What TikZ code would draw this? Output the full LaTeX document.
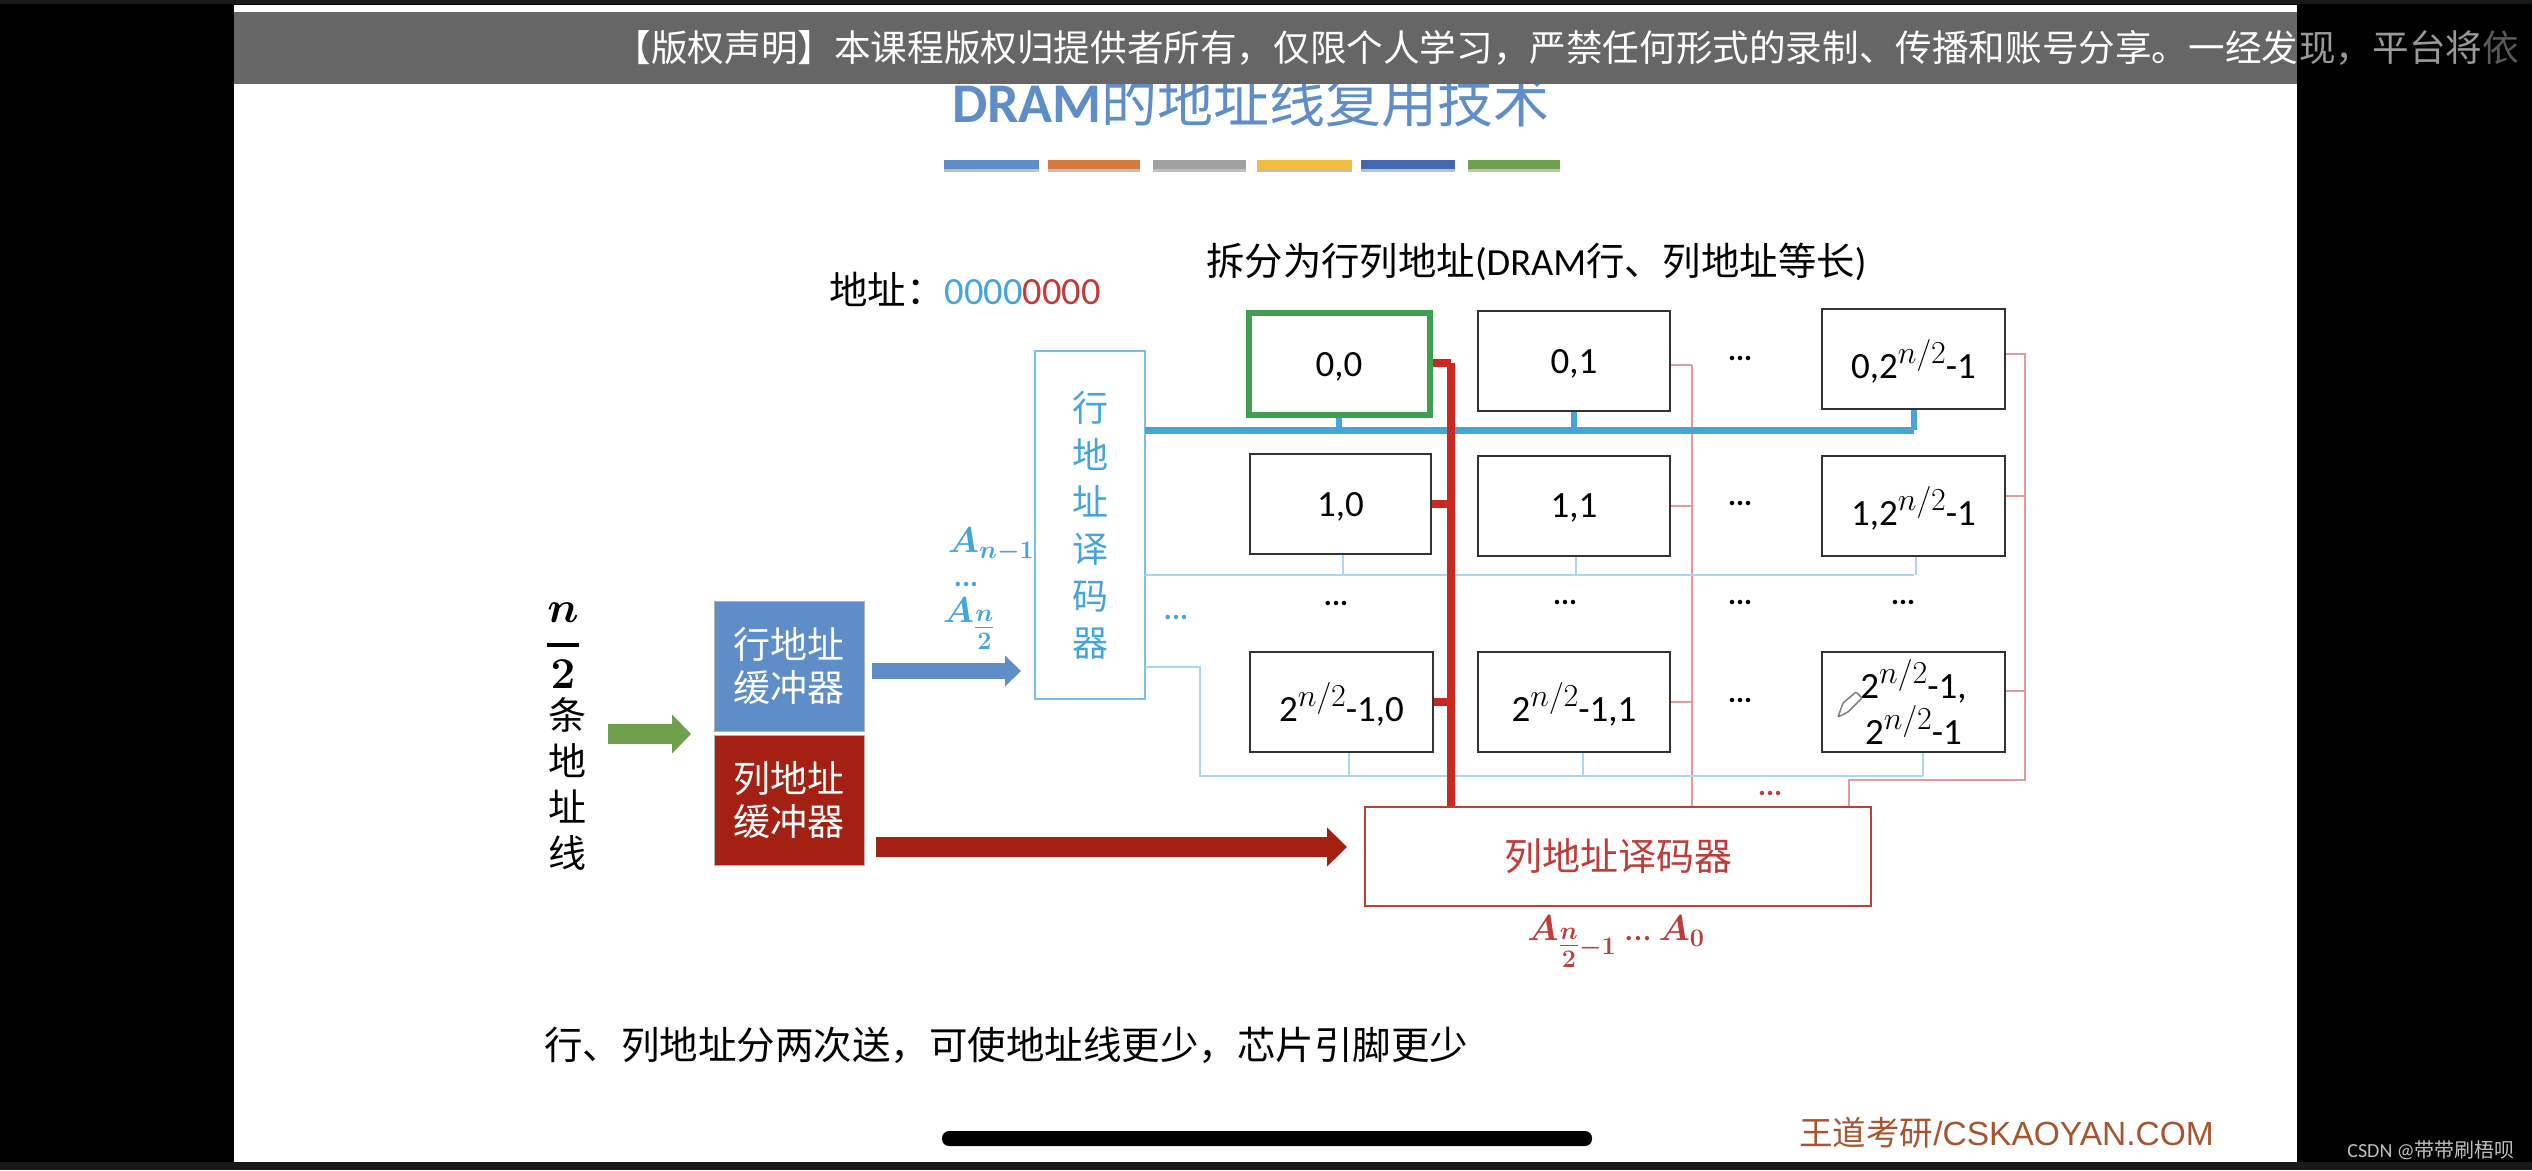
\documentclass[tikz,border=0pt]{standalone}
\usepackage{fix-cm}
\usepackage{amsmath}
\usepackage{fontspec}
\setmainfont{Carlito}
\newfontfamily\cjk{Noto Sans CJK SC}
\newfontfamily\arialfont{Liberation Sans}
\usetikzlibrary{arrows.meta}
\definecolor{rowblue}{HTML}{45A5DA}
\definecolor{rowthin}{HTML}{A9D8EE}
\definecolor{bufblue}{HTML}{5F8DC7}
\definecolor{bufred}{HTML}{A32012}
\definecolor{colred}{HTML}{C9291F}
\definecolor{colthin}{HTML}{E39A9A}
\definecolor{deccol}{HTML}{BE3C3A}
\definecolor{logocol}{HTML}{A5552F}
\definecolor{cellgreen}{HTML}{3F9E52}
\definecolor{arrowgreen}{HTML}{6FA04C}
\definecolor{barorange}{HTML}{D5793F}
\definecolor{bargray}{HTML}{A0A0A0}
\definecolor{bargold}{HTML}{F0BC3C}
\definecolor{barblue}{HTML}{4468B4}
\newcommand{\halfpow}{\raisebox{15pt}{\fontsize{32}{32}\selectfont$n/2$}}
\begin{document}
\begin{tikzpicture}[x=1pt, y=-1pt, align=center,
	every node/.style = {inner sep = 0, font = \fontsize{37}{46}\selectfont},
	cell/.style = {draw = black!80, line width = 2.5, fill = white, minimum height = 100, text depth = 0},
	buffer/.style = {draw = black!30, line width = 1, text = white, minimum width = 150, minimum height = 130, font = \cjk\fontsize{37}{43}\selectfont},
	dots/.style = {font = \bfseries\fontsize{30}{30}\selectfont},
	rowlbl/.style = {text = rowblue, font = \boldmath\fontsize{36}{40}\selectfont},
	collbl/.style = {text = deccol, font = \boldmath\fontsize{36}{40}\selectfont},
	rowbus/.style = {draw = rowblue, line width = 7},
	rowwire/.style = {draw = rowthin, line width = 2},
	colbus/.style = {draw = colred, line width = 8},
	colwire/.style = {draw = colthin, line width = 2},
	block/.style = {line width = 16, -{Triangle[length = 16pt, width = 30pt]}}]
	\useasboundingbox (0,0) rectangle (2532,1170);
	\fill[black] (0,0) rectangle (2532,1170);
	\fill[black!90] (0,0) rectangle (2532,4);
	\fill[black!90] (0,1162) rectangle (2532,1170);
	\fill[white] (234,5) rectangle (2297,1162);

	\node[font = \bfseries\fontsize{56}{60}\selectfont, text = bufblue] (title) at (1251,101) {DRAM{\cjk\mdseries 的地址线复用技术}};
	\fill[black!60] (234,12) rectangle (2297,84);
	\node[anchor = west, text = white, font = \cjk\fontsize{36.6}{44}\selectfont] (notice) at (614.5,48) {【版权声明】本课程版权归提供者所有，仅限个人学习，严禁任何形式的录制、传播和账号分享。一经发};
	\node[anchor = west, text = black!40, font = \cjk\fontsize{36.6}{44}\selectfont] (noticeend) at (2299,48) {现，平台将\textcolor{black!65}{依}};

	\fill[black!25] (944,165) rectangle (1039,172);
	\fill[black!25] (1048,165) rectangle (1140,172);
	\fill[black!25] (1153,165) rectangle (1246,172);
	\fill[black!25] (1257,165) rectangle (1352,172);
	\fill[black!25] (1361,165) rectangle (1455,172);
	\fill[black!25] (1468,165) rectangle (1560,172);
	\fill[bufblue] (944,160) rectangle (1039,169);
	\fill[barorange] (1048,160) rectangle (1140,169);
	\fill[bargray] (1153,160) rectangle (1246,169);
	\fill[bargold] (1257,160) rectangle (1352,169);
	\fill[barblue] (1361,160) rectangle (1455,169);
	\fill[arrowgreen] (1468,160) rectangle (1560,169);

	\node[anchor = west, font = \fontsize{38.5}{44}\selectfont] (addr) at (829,289) {{\cjk 地址：}\textcolor{rowblue}{0000}\textcolor{deccol}{0000}};
	\node[anchor = west, font = \fontsize{38.4}{44}\selectfont] (split) at (1206,262) {{\cjk 拆分为行列地址}(DRAM{\cjk 行、列地址等长})};

	\node[cell, minimum width = 181, draw = cellgreen, line width = 6, minimum height = 102] (c00) at (1339,364) {0,0};
	\node[cell, minimum width = 192] (c01) at (1574,361) {0,1};
	\node[cell, minimum width = 183] (c02) at (1913.5,359) {0,2\halfpow-1};
	\node[cell, minimum width = 181] (c10) at (1340.5,504) {1,0};
	\node[cell, minimum width = 192] (c11) at (1574,506) {1,1};
	\node[cell, minimum width = 183] (c12) at (1913.5,506) {1,2\halfpow-1};
	\node[cell, minimum width = 183] (c30) at (1341.5,702) {2\halfpow-1,0};
	\node[cell, minimum width = 192] (c31) at (1574,702) {2\halfpow-1,1};
	\node[cell, minimum width = 183] (c32) at (1913.5,702) {2\halfpow-1,\\2\halfpow-1};

	\node[draw = rowblue!70, line width = 2.5, text = rowblue, minimum width = 110, minimum height = 348, font = \cjk\fontsize{36}{47}\selectfont] (rowdec) at (1090,525) {行\\地\\址\\译\\码\\器};
	\node[draw = deccol, line width = 2.5, text = deccol, minimum width = 506, minimum height = 99, font = \cjk\fontsize{38}{44}\selectfont] (coldec) at (1618,856.5) {列地址译码器};
	\node[buffer, fill = bufblue] (rowbuf) at (789,666) {行地址\\缓冲器};
	\node[buffer, fill = bufred] (colbuf) at (789,800) {列地址\\缓冲器};

	\node[font = \boldmath\fontsize{44}{50}\selectfont] (width) at (563,646) {$\genfrac{}{}{4pt}{0}{n}{2}$};
	\node[font = \cjk\fontsize{38}{46}\selectfont] (wires) at (567,784) {条\\地\\址\\线};
	\node[rowlbl] (rowhi) at (991,545) {$A_{n-1}$};
	\node[dots, text = rowblue] (rowmid) at (966,584) {...};
	\node[rowlbl] (rowlo) at (969,624) {$A_{\tfrac{n}{2}}$};
	\node[collbl] (collow) at (1616,942) {$A_{\tfrac{n}{2}-1}$ ...$\,A_0$};

	\node[dots] (d03) at (1740,358) {...};
	\node[dots] (d13) at (1740,503) {...};
	\node[dots] (d20) at (1336,603) {...};
	\node[dots] (d21) at (1565,602) {...};
	\node[dots] (d22) at (1740,602) {...};
	\node[dots] (d23) at (1903,602) {...};
	\node[dots] (d33) at (1740,700) {...};
	\node[dots, text = rowblue] (drow) at (1176,617) {...};
	\node[dots, text = deccol] (dcol) at (1770,793) {...};

	\coordinate (bus0) at (1145,430);
	\coordinate (bus1) at (1145,575);
	\coordinate (bus2) at (1145,667);
	\coordinate (bus3) at (1200,667);
	\coordinate (bus4) at (1200,776);
	\coordinate (col0) at (1451,363);
	\coordinate (col1) at (1692,365);
	\coordinate (col2) at (2025,354);
	\coordinate (col3) at (2025,780);
	\coordinate (col4) at (1849,780);
	\draw[colwire] (col1) -- (col1 |- coldec.north);
	\draw[colwire] (c01.east |- col1) -- (col1);
	\draw[colwire] (c11.east) -- (col1 |- c11.east);
	\draw[colwire] (c31.east) -- (col1 |- c31.east);
	\draw[colwire] (c02.east |- col2) -- (col2) -- (col3) -- (col4) -- (col4 |- coldec.north);
	\draw[colwire] ([yshift = 10pt]c12.east) -- ([yshift = 10pt]col2 |- c12.east);
	\draw[colwire] ([yshift = 11pt]c32.east) -- ([yshift = 11pt]col2 |- c32.east);
	\draw[rowwire] (bus1) -- (c12.south |- bus1);
	\draw[rowwire] ([xshift = 2pt]c10.south) -- ([xshift = 2pt]c10.south |- bus1);
	\draw[rowwire] ([xshift = 2pt]c11.south) -- ([xshift = 2pt]c11.south |- bus1);
	\draw[rowwire] ([xshift = 2pt]c12.south) -- ([xshift = 2pt]c12.south |- bus1);
	\draw[rowwire] (bus2) -- (bus3) -- (bus4) -- ([xshift = 9pt]c32.south |- bus4);
	\draw[rowwire] ([xshift = 7pt]c30.south) -- ([xshift = 7pt]c30.south |- bus4);
	\draw[rowwire] ([xshift = 9pt]c31.south) -- ([xshift = 9pt]c31.south |- bus4);
	\draw[rowwire] ([xshift = 9pt]c32.south) -- ([xshift = 9pt]c32.south |- bus4);
	\draw[rowbus] (bus0) -- (c02.south |- bus0);
	\draw[rowbus, line width = 6] (c00.south) -- (c00.south |- bus0);
	\draw[rowbus, line width = 6] (c01.south) -- (c01.south |- bus0);
	\draw[rowbus, line width = 6] (c02.south) -- (c02.south |- bus0);
	\draw[colbus] (col0) -- (col0 |- coldec.north);
	\draw[colbus] (c00.east |- col0) -- (col0);
	\draw[colbus] (c10.east) -- (col0 |- c10.east);
	\draw[colbus] (c30.east) -- (col0 |- c30.east);

	\coordinate (inleft) at (608,734);
	\coordinate (inright) at (691,734);
	\coordinate (rowtip) at (1021,671);
	\coordinate (coltip) at (1347,847);
	\draw[block, arrowgreen, line width = 20, -{Triangle[length = 19pt, width = 38pt]}] (inleft) -- (inright);
	\draw[block, bufblue] ([xshift = 7pt, yshift = -5pt]rowbuf.east) -- (rowtip);
	\draw[block, bufred, line width = 20, -{Triangle[length = 20pt, width = 38pt]}] ([xshift = 11pt, yshift = -47pt]colbuf.east) -- (coltip);

	\draw[draw = black!50, fill = white, line width = 1.5, rounded corners = 1] (1838,717) -- (1843,703) -- (1856,692) -- (1862,698) -- (1848,712) -- cycle;

	\node[anchor = west, font = \cjk\fontsize{38.5}{44}\selectfont] (note) at (544,1045) {行、列地址分两次送，可使地址线更少，芯片引脚更少};
	\fill[black, rounded corners = 7] (942,1131) rectangle (1592,1146);
	\node[anchor = east, text = logocol, font = \arialfont\fontsize{33.5}{38}\selectfont] (logo) at (2214,1133) {{\cjk 王道考研}/CSKAOYAN.COM};
	\node[anchor = east, text = black!25, font = \fontsize{20}{24}\selectfont] (csdn) at (2515,1150) {CSDN @{\cjk 带带刷梧呗}};
\end{tikzpicture}
\end{document}
